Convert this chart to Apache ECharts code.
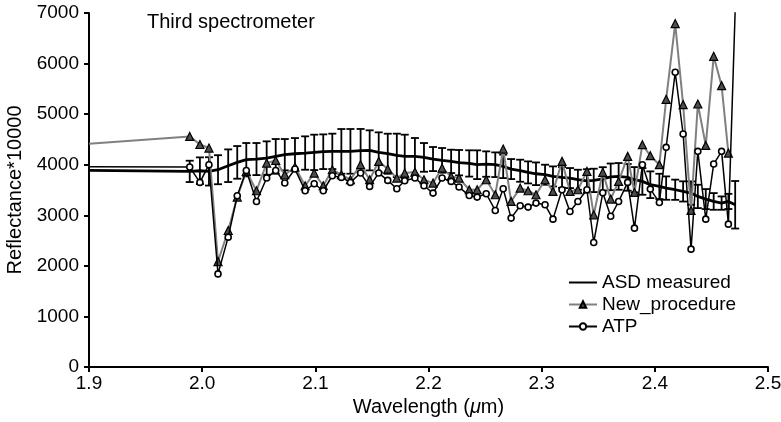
<!DOCTYPE html>
<html>
<head>
<meta charset="utf-8">
<script src="https://cdn.jsdelivr.net/npm/echarts@6/dist/echarts.min.js"></script>
<style>
  html, body { margin: 0; padding: 0; background: #fff; }
  #chart { width: 781px; height: 422px; }
</style>
</head>
<body>
<div id="chart"></div>
<script>
// wavelength (um) of each sample, first one is where the curves enter the plot
const wavelength = [1.9, 1.989, 1.998, 2.006, 2.014, 2.023, 2.031, 2.039, 2.048, 2.057, 2.065, 2.073, 2.082, 2.091, 2.099, 2.107, 2.115, 2.123, 2.131, 2.140, 2.148, 2.156, 2.164, 2.172, 2.179, 2.188, 2.196, 2.204, 2.212, 2.220, 2.227, 2.236, 2.243, 2.251, 2.259, 2.266, 2.273, 2.281, 2.288, 2.295, 2.303, 2.310, 2.318, 2.325, 2.332, 2.340, 2.346, 2.354, 2.361, 2.368, 2.376, 2.382, 2.389, 2.396, 2.404, 2.410, 2.418, 2.425, 2.432, 2.438, 2.445, 2.452, 2.459, 2.465, 2.471];

const asdMeasured = [3890, 3868, 3881, 3868, 3901, 3980, 4046, 4099, 4112, 4132, 4165, 4198, 4217, 4231, 4244, 4257, 4264, 4264, 4264, 4278, 4284, 4244, 4217, 4185, 4165, 4165, 4145, 4112, 4086, 4066, 4040, 4025, 4000, 4013, 4000, 3967, 3914, 3881, 3848, 3821, 3802, 3769, 3749, 3736, 3703, 3680, 3690, 3720, 3760, 3769, 3750, 3703, 3670, 3604, 3571, 3538, 3505, 3472, 3439, 3373, 3320, 3274, 3241, 3274, 3208];

const asdError = [null, 211, 264, 280, 287, 323, 323, 330, 317, 330, 343, 310, 310, 330, 350, 343, 350, 442, 442, 429, 396, 396, 396, 429, 429, 363, 284, 238, 244, 231, 251, 260, 284, 251, 244, 231, 198, 218, 218, 224, 198, 198, 205, 198, 198, 231, 231, 231, 264, 264, 264, 250, 264, 264, 250, 231, 200, 200, 231, 231, 198, 165, 132, 150, 470];

const newProcedure = [4415, 4560, 4400, 4330, 2085, 2699, 3360, 3870, 3485, 4033, 4085, 3802, 3954, 3584, 3835, 3584, 3901, 3802, 3703, 4000, 3703, 4066, 3914, 3736, 3835, 3855, 3703, 3637, 3934, 3769, 3736, 3505, 3505, 3703, 3406, 4310, 3274, 3538, 3485, 3406, 3703, 3472, 4066, 3472, 3505, 3868, 3010, 3850, 3320, 3670, 4165, 3452, 4396, 4178, 4000, 5293, 6791, 5188, 3096, 5201, 4382, 6144, 5564, 4231, null];

const atp = [3960, 3954, 3650, 4000, 1841, 2568, 3386, 3887, 3273, 3736, 3887, 3637, 3914, 3485, 3623, 3485, 3782, 3749, 3650, 3835, 3571, 3835, 3690, 3525, 3683, 3736, 3584, 3439, 3736, 3670, 3558, 3390, 3360, 3426, 3096, 3525, 2944, 3188, 3162, 3241, 3208, 2924, 3505, 3076, 3274, 3505, 2462, 3445, 2980, 3273, 3650, 2746, 4000, 3518, 3254, 4343, 5828, 4607, 2330, 4264, 2924, 4013, 4264, 2825, 7060];

const xTicks = { min: 1.9, max: 2.5, step: 0.1 };
const yTicks = { min: 0, max: 7000, step: 1000 };

const font = '"Liberation Sans", Arial, sans-serif';

// no marker where a curve enters the plot or leaves it at the top
const lastIdx = wavelength.length - 1;
const pairs = (ys) => wavelength.map((w, i) => {
  if (i === 0 || i === lastIdx) return { value: [w, ys[i]], symbol: 'none' };
  return [w, ys[i]];
});

const errorData = wavelength
  .map((w, i) => asdError[i] == null ? null : [w, asdMeasured[i], asdError[i]])
  .filter(Boolean);

const chart = echarts.init(document.getElementById('chart'));

const option = {
  animation: false,
  backgroundColor: '#fff',
  textStyle: { fontFamily: font, color: '#000' },
  title: {
    text: 'Third spectrometer',
    left: 142,
    top: 7,
    textStyle: { fontFamily: font, fontSize: 20, fontWeight: 'normal', color: '#000' }
  },
  grid: { left: 89, right: 13, top: 13, bottom: 55, outerBoundsMode: 'none' },
  legend: {
    data: [
      { name: 'ASD measured', itemStyle: { color: 'rgba(0,0,0,0)', borderWidth: 0 } },
      { name: 'New_procedure' },
      { name: 'ATP' }
    ],
    orient: 'vertical',
    left: 568,
    top: 273,
    padding: 0,
    itemWidth: 28,
    itemHeight: 8,
    itemGap: 3,
    textStyle: { fontFamily: font, fontSize: 19, color: '#000' }
  },
  xAxis: {
    type: 'value',
    min: xTicks.min,
    max: xTicks.max,
    interval: xTicks.step,
    name: 'Wavelength ({i|\u03bc}m)',
    nameLocation: 'middle',
    nameGap: 30,
    nameTextStyle: {
      fontFamily: font, fontSize: 20, color: '#000',
      rich: { i: { fontFamily: font, fontSize: 20, fontStyle: 'italic', color: '#000' } }
    },
    axisLine: { show: true, lineStyle: { color: '#000', width: 2 } },
    axisTick: { show: true, length: 5, lineStyle: { color: '#000', width: 2 } },
    splitLine: { show: false },
    axisLabel: {
      fontFamily: font, fontSize: 19, color: '#000', margin: 7,
      formatter: (v) => v.toFixed(1)
    }
  },
  yAxis: {
    type: 'value',
    min: yTicks.min,
    max: yTicks.max,
    interval: yTicks.step,
    name: 'Reflectance*10000',
    nameLocation: 'middle',
    nameGap: 64,
    nameTextStyle: { fontFamily: font, fontSize: 20, color: '#000' },
    axisLine: { show: true, lineStyle: { color: '#000', width: 2 } },
    axisTick: { show: true, length: 5, lineStyle: { color: '#000', width: 2 } },
    splitLine: { show: false },
    axisLabel: {
      fontFamily: font, fontSize: 19, color: '#000', margin: 10,
      formatter: (v) => String(v)
    }
  },
  series: [
    {
      name: 'ASD error',
      type: 'custom',
      data: errorData,
      z: 2,
      renderItem: (params, api) => {
        const x = api.value(0), y = api.value(1), e = api.value(2);
        const top = api.coord([x, y + e]);
        const bot = api.coord([x, y - e]);
        const cap = 4;
        const st = { stroke: '#000', lineWidth: 1.8 };
        return {
          type: 'group',
          children: [
            { type: 'line', shape: { x1: top[0], y1: top[1], x2: bot[0], y2: bot[1] }, style: st },
            { type: 'line', shape: { x1: top[0] - cap, y1: top[1], x2: top[0] + cap, y2: top[1] }, style: st },
            { type: 'line', shape: { x1: bot[0] - cap, y1: bot[1], x2: bot[0] + cap, y2: bot[1] }, style: st }
          ]
        };
      }
    },
    {
      name: 'ASD measured',
      type: 'line',
      data: pairs(asdMeasured),
      symbol: 'none',
      z: 3,
      lineStyle: { color: '#000', width: 2.8 },
      itemStyle: { color: '#000' }
    },
    {
      name: 'New_procedure',
      type: 'line',
      data: pairs(newProcedure),
      symbol: 'triangle',
      symbolSize: 8,
      z: 4,
      lineStyle: { color: '#808080', width: 2 },
      itemStyle: { color: '#4d4d4d', borderColor: '#000', borderWidth: 1.2 }
    },
    {
      name: 'ATP',
      type: 'line',
      data: pairs(atp),
      symbol: 'circle',
      symbolSize: 6,
      z: 5,
      lineStyle: { color: '#000', width: 1.5 },
      itemStyle: { color: '#fff', borderColor: '#000', borderWidth: 1.6 }
    }
  ]
};

chart.setOption(option);
</script>
</body>
</html>
